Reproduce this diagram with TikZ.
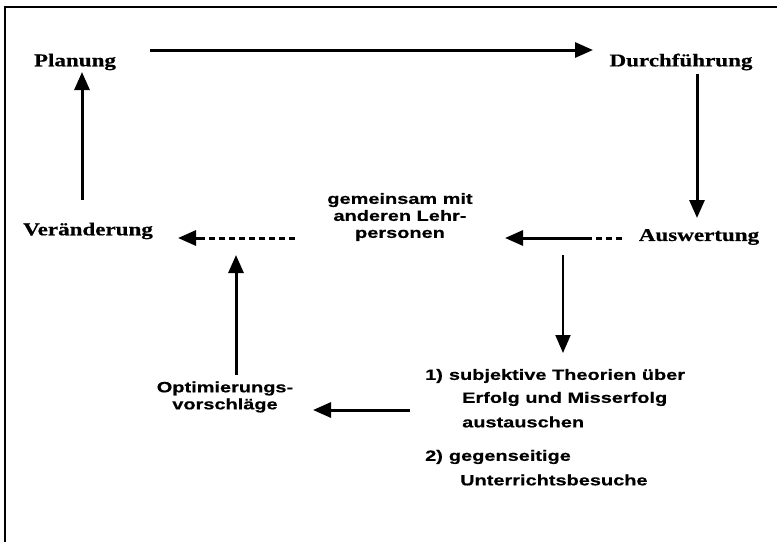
\documentclass[tikz,border=0pt]{standalone}
\usepackage{fontspec}
\setmainfont{Liberation Serif}
\newfontfamily\serb[FakeStretch=1.28,FakeBold=0.6]{Liberation Serif Bold}
\newfontfamily\sanb[FakeStretch=1.33,FakeBold=0.5]{Liberation Sans Bold}
\usetikzlibrary{arrows.meta}
\begin{document}
\begin{tikzpicture}[x=1pt,y=-1pt,
  stage/.style={inner sep=0pt, font=\serb\fontsize{18}{20}\selectfont},
  note/.style={inner sep=0pt, font=\sanb\fontsize{15}{17}\selectfont},
  item/.style={inner sep=0pt, anchor=west, font=\sanb\fontsize{15}{17}\selectfont},
  conn/.style={line width=3pt},
  thinconn/.style={line width=2pt},
  arr/.style={-{Triangle[length=18pt,width=15pt]}},
  dashedpart/.style={dash pattern=on 6pt off 4pt}
]
\useasboundingbox (0,0) rectangle (777,542);
\draw[line width=2pt] (5,542) -- (5,7) -- (777,7);

% nodes
\node[stage] (plan) at (75,62) {Planung};
\node[stage] (durch) at (681,62) {Durchführung};
\node[stage] (ausw) at (699,237) {Auswertung};
\node[stage] (veraend) at (88,231) {Veränderung};
\node[note, align=center] (gemein) at (400,217) {gemeinsam mit\\anderen Lehr-\\personen};
\node[note, align=center] (optim) at (225,397) {Optimierungs-\\vorschläge};
\node[item] (t1a) at (425,376) {1)\hspace{6pt}subjektive Theorien über};
\node[item] (t1b) at (462,399) {Erfolg und Misserfolg};
\node[item] (t1c) at (462,422) {austauschen};
\node[item] (t2a) at (425,457) {2)\hspace{6pt}gegenseitige};
\node[item] (t2b) at (460,480) {Unterrichtsbesuche};

% connector end points
\coordinate (pd1) at (150,50);
\coordinate (pd2) at (593,50);
\coordinate (da1) at (697,74);
\coordinate (da2) at (697,218);
\coordinate (ag1) at (622,238);
\coordinate (ag2) at (590,238);
\coordinate (ag3) at (505,238);
\coordinate (gv1) at (295,238);
\coordinate (gv2) at (200,238);
\coordinate (gv3) at (178,238);
\coordinate (vp1) at (82,200);
\coordinate (vp2) at (82,72);
\coordinate (at1) at (563,255);
\coordinate (at2) at (563,353);
\coordinate (to1) at (410,410);
\coordinate (to2) at (313,410);
\coordinate (ov1) at (236,375);
\coordinate (ov2) at (236,255);

% connectors
\draw[conn, arr] (pd1) -- (pd2);
\draw[conn, arr] (da1) -- (da2);
\draw[conn, dashedpart] (ag1) -- (ag2);
\draw[conn, arr] (ag2) -- (ag3);
\draw[conn, dashedpart] (gv1) -- (gv2);
\draw[conn, arr] (gv2) -- (gv3);
\draw[conn, arr] (vp1) -- (vp2);
\draw[thinconn, arr] (at1) -- (at2);
\draw[conn, arr] (to1) -- (to2);
\draw[conn, arr] (ov1) -- (ov2);
\end{tikzpicture}
\end{document}
